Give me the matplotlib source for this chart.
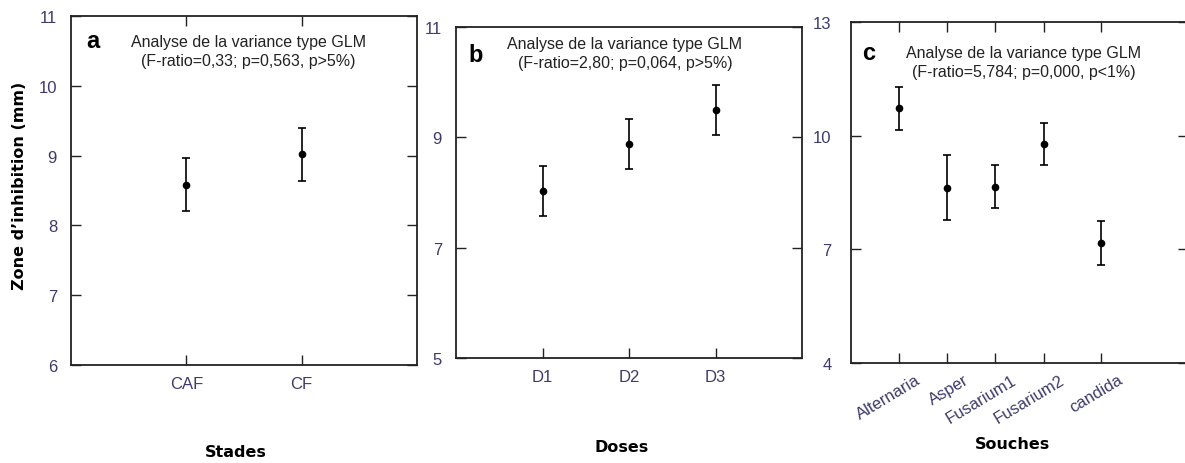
import matplotlib
matplotlib.use("Agg")
import matplotlib.pyplot as plt
import matplotlib.transforms as mtransforms
import numpy as np

# ---- data ----
stades = ["CAF", "CF"]
stades_mean = [8.58, 9.02]
stades_err = [0.38, 0.38]

doses = ["D1", "D2", "D3"]
doses_mean = [8.03, 8.88, 9.49]
doses_err = [0.45, 0.45, 0.45]

souches = ["Alternaria", "Asper", "Fusarium1", "Fusarium2", "candida"]
souches_mean = [10.72, 8.63, 8.65, 9.78, 7.17]
souches_err = [0.57, 0.86, 0.57, 0.56, 0.57]

yticks_a = [6, 7, 8, 9, 10, 11]
yticks_b = [5, 7, 9, 11]
yticks_c = [4, 7, 10, 13]

plt.rcParams["font.family"] = ["Liberation Sans", "DejaVu Sans"]
plt.rcParams["xtick.direction"] = "in"
plt.rcParams["ytick.direction"] = "in"

W, H = 1185, 464
fig = plt.figure(figsize=(W / 100, H / 100), dpi=100)

TICKC = "#3f3a6b"
SPC = "#222222"


def rect(l, r, t, b):
    return [l / W, 1 - b / H, (r - l) / W, (b - t) / H]


def px(x, y):
    return (x / W, 1 - y / H)


def style(ax, ylim, yticks, xlim, top=True, ypad=10, xpad=8):
    ax.set_ylim(*ylim)
    ax.set_xlim(*xlim)
    for s in ax.spines.values():
        s.set_linewidth(1.3)
        s.set_color(SPC)
    ax.set_yticks(yticks)
    ax.tick_params(axis="y", which="both", direction="in", length=7.5,
                   width=1.0, color=SPC, labelsize=12, labelcolor=TICKC,
                   pad=ypad, left=True, right=True)
    ax.tick_params(axis="x", which="both", direction="in", length=7.5,
                   width=1.0, color=SPC, labelsize=12, labelcolor=TICKC,
                   pad=xpad, bottom=True, top=top)


def draw(ax, x, m, e):
    ax.errorbar(x, m, yerr=e, fmt="o", color="black", ms=4.5, elinewidth=1.2,
                capsize=3, capthick=1.2)


# panel a
ax1 = fig.add_axes(rect(71, 417, 17, 366))
xa = np.arange(1, len(stades) + 1)
draw(ax1, xa, stades_mean, stades_err)
ax1.set_xticks(xa)
ax1.set_xticklabels(stades)
style(ax1, (6, 11), yticks_a, (0, 3))

# panel b
ax2 = fig.add_axes(rect(456, 802, 27.7, 359.3))
xb = np.arange(1, len(doses) + 1)
draw(ax2, xb, doses_mean, doses_err)
ax2.set_xticks(xb)
ax2.set_xticklabels(doses)
style(ax2, (5, 11), yticks_b, (0, 4), top=False)

# panel c
ax3 = fig.add_axes(rect(851, 1188, 22.7, 364.3))
xc = [1, 2, 3, 4, 5.2]
draw(ax3, xc, souches_mean, souches_err)
ax3.set_xticks(xc)
ax3.set_xticklabels(souches, rotation=31, ha="right", va="top",
                    rotation_mode="anchor")
style(ax3, (4, 13), yticks_c, (0, 7), ypad=14, xpad=6)
shift = mtransforms.ScaledTranslation(16 / 100, 0, fig.dpi_scale_trans)
for lab in ax3.get_xticklabels():
    lab.set_transform(lab.get_transform() + shift)

# panel letters and annotations
fs_ann = 11.5
for (lx, ly, let, cx, y1, y2, l1, l2) in [
    (93, 48, "a", 248.5, 47, 66, "Analyse de la variance type GLM",
     "(F-ratio=0,33; p=0,563, p>5%)"),
    (476, 62, "b", 625, 49, 68, "Analyse de la variance type GLM",
     "(F-ratio=2,80; p=0,064, p>5%)"),
    (869, 60, "c", 1024, 58, 77, "Analyse de la variance type GLM",
     "(F-ratio=5,784; p=0,000, p<1%)"),
]:
    fig.text(*px(lx, ly), let, fontsize=17, fontweight="bold", ha="center",
             va="baseline", color="black")
    fig.text(*px(cx, y1), l1, fontsize=fs_ann, ha="center", va="baseline",
             color="#222222")
    fig.text(*px(cx, y2), l2, fontsize=fs_ann, ha="center", va="baseline",
             color="#222222")

# axis labels
fig.text(*px(236, 453), "Stades", fontsize=11.5, fontweight="bold",
         family="DejaVu Sans", ha="center", va="center")
fig.text(*px(622, 448), "Doses", fontsize=11.5, fontweight="bold",
         family="DejaVu Sans", ha="center", va="center")
fig.text(*px(1013, 445), "Souches", fontsize=11.5, fontweight="bold",
         family="DejaVu Sans", ha="center", va="center")
fig.text(*px(20, 186), "Zone d\u2019inhibition (mm)", fontsize=11.5,
         fontweight="bold", family="DejaVu Sans", ha="center", va="center",
         rotation=90)

fig.savefig("out.png", dpi=100, facecolor="white")
